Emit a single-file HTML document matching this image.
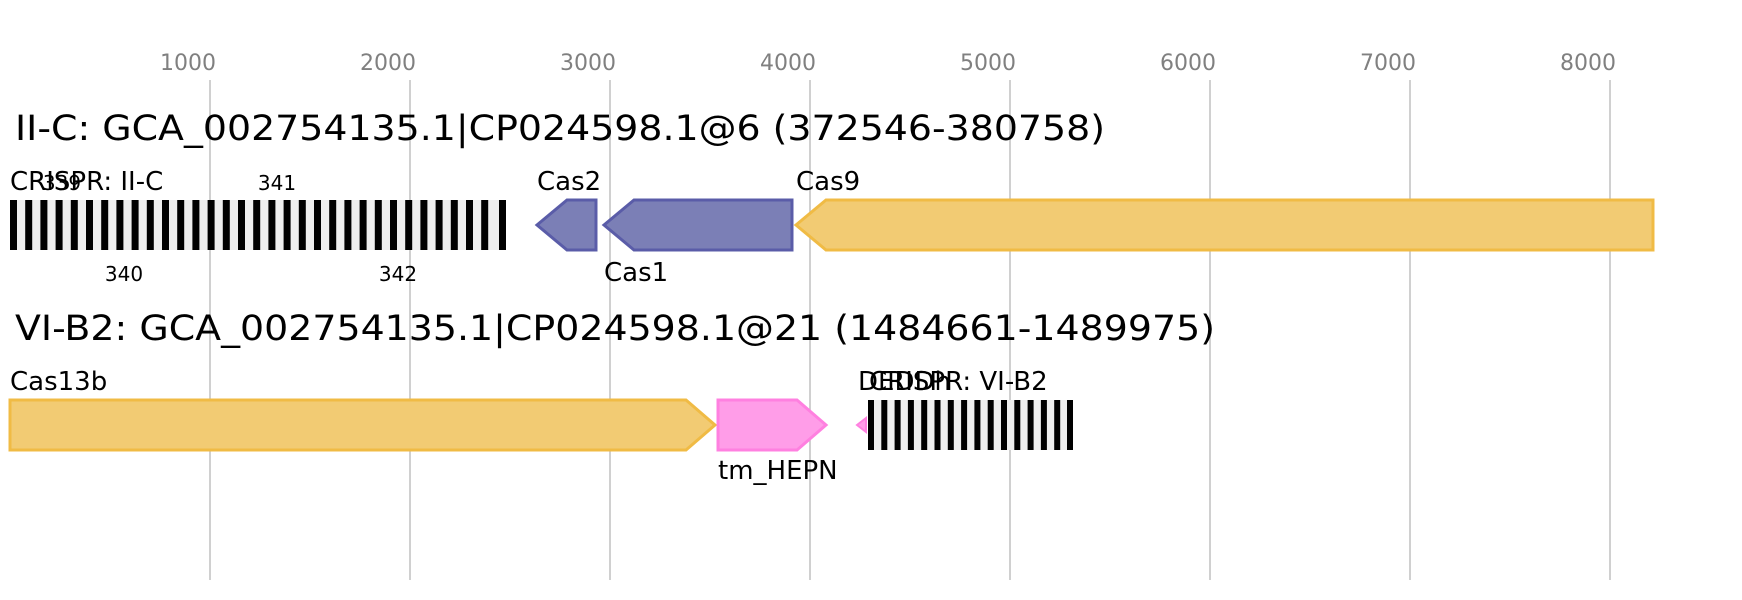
<!DOCTYPE html>
<html><head><meta charset="utf-8"><style>body{margin:0;background:#fff}svg{display:block}text{font-family:"DejaVu Sans","Liberation Sans",sans-serif}</style></head><body>
<svg width="1742" height="600" xmlns="http://www.w3.org/2000/svg">
<g stroke="#c0c0c0" stroke-width="1.5">
<line x1="210" y1="80" x2="210" y2="580"/><line x1="410" y1="80" x2="410" y2="580"/><line x1="610" y1="80" x2="610" y2="580"/><line x1="810" y1="80" x2="810" y2="580"/><line x1="1010" y1="80" x2="1010" y2="580"/><line x1="1210" y1="80" x2="1210" y2="580"/><line x1="1410" y1="80" x2="1410" y2="580"/><line x1="1610" y1="80" x2="1610" y2="580"/>
</g>
<g fill="#808080" font-size="22" text-anchor="middle">
<text x="188" y="70">1000</text><text x="388" y="70">2000</text><text x="588" y="70">3000</text><text x="788" y="70">4000</text><text x="988" y="70">5000</text><text x="1188" y="70">6000</text><text x="1388" y="70">7000</text><text x="1588" y="70">8000</text>
</g>
<text x="15" y="140" font-size="35" textLength="1090" lengthAdjust="spacingAndGlyphs">II-C: GCA_002754135.1|CP024598.1@6 (372546-380758)</text>
<text x="15" y="340" font-size="35" textLength="1200" lengthAdjust="spacingAndGlyphs">VI-B2: GCA_002754135.1|CP024598.1@21 (1484661-1489975)</text>
<rect x="10" y="200" width="496" height="50" fill="#eeeeee"/>
<rect x="868" y="400" width="205" height="50" fill="#eeeeee"/>
<path d="M567,200 L596,200 L596,250 L567,250 L537,225 Z" fill="#7b7fb6" stroke="#5a5ca8" stroke-width="3"/>
<path d="M634,200 L792,200 L792,250 L634,250 L604,225 Z" fill="#7b7fb6" stroke="#5a5ca8" stroke-width="3"/>
<path d="M826,200 L1653,200 L1653,250 L826,250 L796,225 Z" fill="#f2cb73" stroke="#f0bb45" stroke-width="3"/>
<path d="M10,400 L686,400 L715,425 L686,450 L10,450 Z" fill="#f2cb73" stroke="#f0bb45" stroke-width="3"/>
<path d="M718,400 L797,400 L826,425 L797,450 L718,450 Z" fill="#ff9de8" stroke="#ff80e0" stroke-width="3"/>
<path d="M866,418 L866,432 L857,425 Z" fill="#ff9de8" stroke="#ff80e0" stroke-width="2"/>
<g font-size="26" fill="#000">
<text x="10" y="190">CRISPR: II-C</text>
<text x="537" y="190">Cas2</text>
<text x="604" y="281">Cas1</text>
<text x="796" y="190">Cas9</text>
<text x="10" y="390">Cas13b</text>
<text x="718" y="479">tm_HEPN</text>
<text x="858" y="390">DEDDh</text>
<text x="869" y="390">CRISPR: VI-B2</text>
</g>
<g font-size="20" fill="#000" text-anchor="middle">
<text x="62" y="190">339</text><text x="277" y="190">341</text><text x="124" y="281">340</text><text x="398" y="281">342</text>
</g>
<g fill="#000">
<rect x="10.0" y="200" width="7" height="50"/><rect x="25.2" y="200" width="7" height="50"/><rect x="40.4" y="200" width="7" height="50"/><rect x="55.6" y="200" width="7" height="50"/><rect x="70.8" y="200" width="7" height="50"/><rect x="86.0" y="200" width="7" height="50"/><rect x="101.2" y="200" width="7" height="50"/><rect x="116.4" y="200" width="7" height="50"/><rect x="131.6" y="200" width="7" height="50"/><rect x="146.8" y="200" width="7" height="50"/><rect x="162.0" y="200" width="7" height="50"/><rect x="177.2" y="200" width="7" height="50"/><rect x="192.4" y="200" width="7" height="50"/><rect x="207.6" y="200" width="7" height="50"/><rect x="222.8" y="200" width="7" height="50"/><rect x="238.0" y="200" width="7" height="50"/><rect x="253.2" y="200" width="7" height="50"/><rect x="268.4" y="200" width="7" height="50"/><rect x="283.6" y="200" width="7" height="50"/><rect x="298.8" y="200" width="7" height="50"/><rect x="314.0" y="200" width="7" height="50"/><rect x="329.2" y="200" width="7" height="50"/><rect x="344.4" y="200" width="7" height="50"/><rect x="359.6" y="200" width="7" height="50"/><rect x="374.8" y="200" width="7" height="50"/><rect x="390.0" y="200" width="7" height="50"/><rect x="405.2" y="200" width="7" height="50"/><rect x="420.4" y="200" width="7" height="50"/><rect x="435.6" y="200" width="7" height="50"/><rect x="450.8" y="200" width="7" height="50"/><rect x="466.0" y="200" width="7" height="50"/><rect x="481.2" y="200" width="7" height="50"/><rect x="499.0" y="200" width="7" height="50"/>
<rect x="868.0" y="400" width="6" height="50"/><rect x="881.3" y="400" width="6" height="50"/><rect x="894.6" y="400" width="6" height="50"/><rect x="907.9" y="400" width="6" height="50"/><rect x="921.2" y="400" width="6" height="50"/><rect x="934.5" y="400" width="6" height="50"/><rect x="947.8" y="400" width="6" height="50"/><rect x="961.1" y="400" width="6" height="50"/><rect x="974.4" y="400" width="6" height="50"/><rect x="987.7" y="400" width="6" height="50"/><rect x="1001.0" y="400" width="6" height="50"/><rect x="1014.3" y="400" width="6" height="50"/><rect x="1027.6" y="400" width="6" height="50"/><rect x="1040.9" y="400" width="6" height="50"/><rect x="1054.2" y="400" width="6" height="50"/><rect x="1067.0" y="400" width="6" height="50"/>
</g>
</svg>
</body></html>
